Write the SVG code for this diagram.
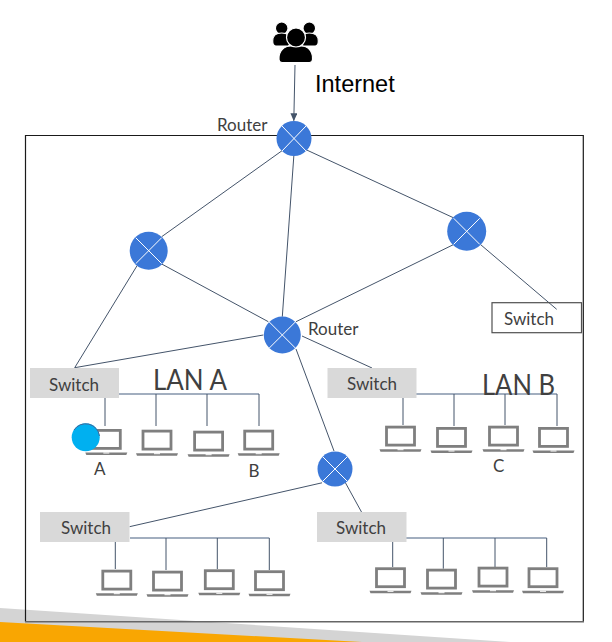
<svg xmlns="http://www.w3.org/2000/svg" width="612" height="642" viewBox="0 0 612 642">
<style>
.l{fill:none;stroke:#44546a;stroke-width:1}
.b{fill:none;stroke:#8494aa;stroke-width:1.500}
.t{font-family:"Lato","Liberation Sans",sans-serif;fill:#404040}
.sw{fill:#d9d9d9}
.s{font-size:17px;text-anchor:middle}
.r{fill:#3b78d8}
.x{stroke:#fff;stroke-width:1;fill:none}
.ppl{fill:#000;stroke:#fff;stroke-width:1.200}
</style>
<defs>
<marker id="ah" markerWidth="9" markerHeight="8" refX="7.500" refY="3.500" orient="auto" markerUnits="userSpaceOnUse"><path d="M0 0L8 3.500L0 7z" fill="#44546a"/></marker>
<g id="lap">
<rect x="-14" y="1.400" width="28" height="18" fill="#fff" stroke="#7f7f7f" stroke-width="2.800"/>
<path d="M-21 23.500h42l-1 2.500h-40z" fill="#7f7f7f"/>
<rect x="-3" y="23.500" width="6" height="1" fill="#fff"/>
</g>
</defs>
<g id="background">
<polygon points="0,608 510,642 0,642" fill="#d4d4d4"/>
<polygon points="0,622 362,642 0,642" fill="#f9a602"/>
</g>
<g id="boundary">
<path d="M25.500 621.700V135.500H583.300V621.700" fill="none" stroke="#1a1a1a" stroke-width="1.200"/>
<path d="M25 621.700H584" fill="none" stroke="#666" stroke-width="1.500"/>
</g>
<g id="connectors">
<path class="l" d="M295 65L293.800 120.700" marker-end="url(#ah)"/>
<path class="l" d="M283 150L161.700 236.700M293.900 155L282.300 316.700M306.700 150L453.300 217.700M453.300 244.700L296 321.700M137.300 265.300L74.700 367.700L263.300 335M161.700 264L268.300 321.700M480.700 244.700L556.700 309.300M302 336L372 368M296 349L334 451M129.500 526.700L322 482.800M345 482L361.500 512"/>
<path class="b" d="M119 394H259M416 394H557M130 538H269.300M406 538H546.700"/>
<path class="l" d="M105 398V426M156 394V426M207 394V426M259 394V426"/>
<path class="l" d="M403 398V425M454 394V426M505 394V425M557 394V426"/>
<path class="l" d="M115.300 542V569M166 538V570M217.300 538V569M269.300 538V570"/>
<path class="l" d="M392.700 542V567M443.300 538V568.700M495 538V569M546.700 538V567"/>
</g>
<g id="internet">
<g class="ppl">
<circle cx="281.700" cy="28.300" r="6.300"/><circle cx="309.300" cy="28.300" r="6.300"/>
<path d="M272.700 41c0-5 3-8 9-8s9 3 9 8c0 3-1 5-3 5h-12c-2 0-3-2-3-5z"/>
<path d="M318.300 41c0-5-3-8-9-8s-9 3-9 8c0 3 1 5 3 5h12c2 0 3-2 3-5z"/>
<path d="M279 58c0-7 5-12 12-12h10c7 0 11.500 5 11.500 12v1.500c0 2-1 3-3 3h-27.500c-2 0-3-1-3-3z"/>
<circle cx="296" cy="37.500" r="9.500"/>
</g>
<text x="315" y="92" font-family="Liberation Sans,sans-serif" font-size="23.500" fill="#000">Internet</text>
</g>
<g id="router-top"><circle class="r" cx="294" cy="138.500" r="17.500"/><path class="x" d="M282 126L306 151M306 126L282 151"/><text class="t" x="217" y="131" font-size="17">Router</text></g>
<g id="router-left"><circle class="r" cx="148.700" cy="250.700" r="19"/><path class="x" d="M135.700 237.700L161.700 263.700M161.700 237.700L135.700 263.700"/></g>
<g id="router-right"><circle class="r" cx="466.700" cy="231.300" r="19.500"/><path class="x" d="M453.700 218.300L479.700 244.300M479.700 218.300L453.700 244.300"/></g>
<g id="router-center"><circle class="r" cx="282.300" cy="335" r="18.500"/><path class="x" d="M269.300 322L295.300 348M295.300 322L269.300 348"/><text class="t" x="308" y="335" font-size="17">Router</text></g>
<g id="router-bottom"><circle class="r" cx="335" cy="469" r="17.500"/><path class="x" d="M323 457L347 481M347 457L323 481"/></g>
<g id="switch-white"><rect x="492" y="302.700" width="89.500" height="30" fill="none" stroke="#505050" stroke-width="1.200"/><text class="t s" x="529" y="325">Switch</text></g>
<g id="switch-a"><rect class="sw" x="30" y="368" width="89" height="30"/><text class="t s" x="74" y="391">Switch</text></g>
<g id="switch-b"><rect class="sw" x="327.500" y="368" width="89" height="30"/><text class="t s" x="372" y="390">Switch</text></g>
<g id="switch-c"><rect class="sw" x="40" y="512" width="89.500" height="30"/><text class="t s" x="86" y="534">Switch</text></g>
<g id="switch-d"><rect class="sw" x="317" y="512" width="89.500" height="30"/><text class="t s" x="361" y="534">Switch</text></g>
<g id="laptops">
<use href="#lap" x="106.300" y="429"/><use href="#lap" x="157" y="429.700"/><use href="#lap" x="208.600" y="430.700"/><use href="#lap" x="258.700" y="429.700"/>
<use href="#lap" x="400.500" y="425.700"/><use href="#lap" x="451.500" y="427"/><use href="#lap" x="503.500" y="425.700"/><use href="#lap" x="553.500" y="427"/>
<use href="#lap" x="116.800" y="569.700"/><use href="#lap" x="167.500" y="570.700"/><use href="#lap" x="219.300" y="569.300"/><use href="#lap" x="269.500" y="570.300"/>
<use href="#lap" x="390.500" y="567.300"/><use href="#lap" x="441.500" y="568.700"/><use href="#lap" x="493" y="566.700"/><use href="#lap" x="543" y="567.300"/>
</g>
<g id="host-dot"><circle cx="85.700" cy="437.300" r="14" fill="#00b0f0"/><path d="M74 430a14 14 0 0 1 25.500 6" fill="none" stroke="#44689a" stroke-width="1"/></g>
<g id="labels">
<text class="t" x="153" y="390" font-size="28" textLength="74" lengthAdjust="spacingAndGlyphs">LAN A</text>
<text class="t" x="482" y="395" font-size="28" textLength="73" lengthAdjust="spacingAndGlyphs">LAN B</text>
<text class="t" x="94" y="475" font-size="17">A</text>
<text class="t" x="248.500" y="477.300" font-size="17">B</text>
<text class="t" x="493" y="472.300" font-size="17">C</text>
</g>
</svg>
